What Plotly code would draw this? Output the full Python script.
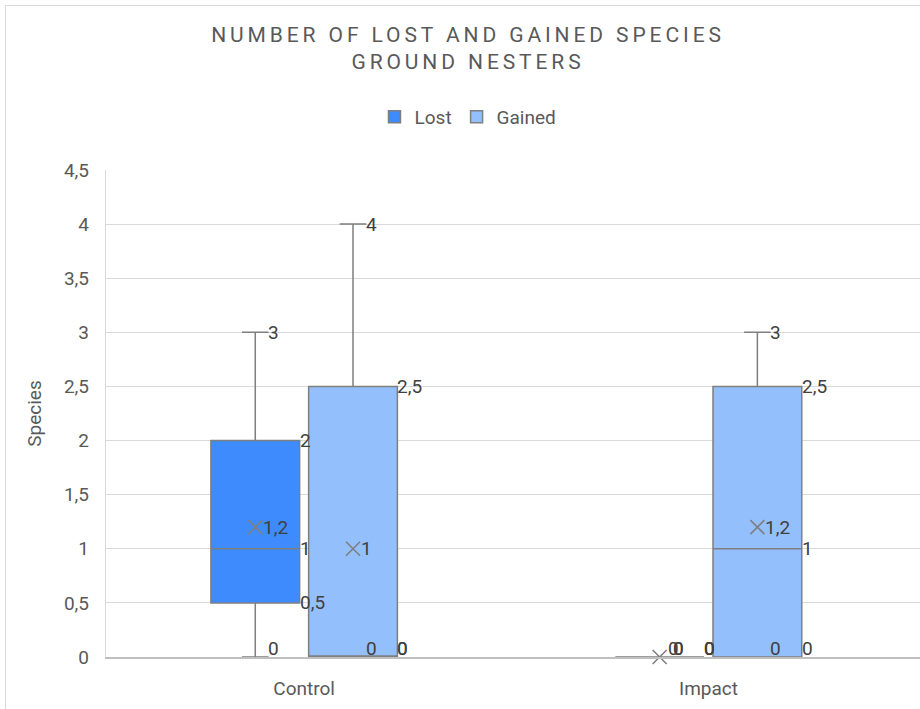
import plotly.graph_objects as go

# ---- data -------------------------------------------------------------
categories = ["Control", "Impact"]
series_names = ["Lost", "Gained"]

lost_min = [0, 0]
lost_q1 = [0.5, 0]
lost_median = [1, 0]
lost_q3 = [2, 0]
lost_max = [3, 0]
lost_mean = [1.2, 0]

gained_min = [0, 0]
gained_q1 = [0, 0]
gained_median = [0, 1]
gained_q3 = [2.5, 2.5]
gained_max = [4, 3]
gained_mean = [1, 1.2]

y_tick_values = [0, 0.5, 1, 1.5, 2, 2.5, 3, 3.5, 4, 4.5]

# ---- styling ------------------------------------------------------------
W, H = 920, 709
M_L, M_R, M_T, M_B = 106, 0, 170, 52
FONT = "Roboto"
FS = 19
GREY_TEXT = "#595959"
LABEL_TEXT = "#404040"
EDGE = "#7f7f7f"
GRID = "#d9d9d9"
COLORS = {"Lost": "#3d8bfd", "Gained": "#94bffd"}
BOX_GAP = 0.5166
BOX_GROUP_GAP = 0.092
X_RANGE = [-0.49, 1.523]

stats = {
    "Lost": dict(mn=lost_min, q1=lost_q1, med=lost_median, q3=lost_q3, mx=lost_max, mean=lost_mean),
    "Gained": dict(mn=gained_min, q1=gained_q1, med=gained_median, q3=gained_q3, mx=gained_max, mean=gained_mean),
}

xpos = list(range(len(categories)))
group_w = 1 - BOX_GAP
offsets = {"Lost": -group_w / 4, "Gained": group_w / 4}
half_w = group_w * (1 - BOX_GROUP_GAP) / 4


def fmt(v):
    if float(v).is_integer():
        return str(int(v))
    return f"{v:g}".replace(".", ",")


fig = go.Figure()

for name in series_names:
    s = stats[name]
    fig.add_trace(go.Box(
        name=name,
        x=xpos,
        q1=s["q1"], median=s["med"], q3=s["q3"],
        lowerfence=s["mn"], upperfence=s["mx"],
        fillcolor=COLORS[name],
        line=dict(color=EDGE, width=1.5),
        whiskerwidth=0.3,
        boxpoints=False,
        hoverinfo="skip",
    ))

# mean markers
for name in series_names:
    s = stats[name]
    fig.add_trace(go.Scatter(
        x=[i + offsets[name] for i in xpos],
        y=s["mean"],
        mode="markers",
        marker=dict(symbol="x-thin", size=14, line=dict(color=EDGE, width=1.6)),
        cliponaxis=False,
        showlegend=False,
        hoverinfo="skip",
    ))

# value labels
annotations = []


def add_label(x, y, xshift):
    zero = (y == 0)
    annotations.append(dict(
        x=x, y=y, xref="x", yref="y", text=fmt(y), showarrow=False,
        xanchor="left", yanchor="bottom" if zero else "middle",
        xshift=xshift, yshift=-5 if zero else 0,
        font=dict(family=FONT, size=FS, color=LABEL_TEXT),
    ))


for name in series_names:
    s = stats[name]
    for i in xpos:
        c = i + offsets[name]
        add_label(c, s["mn"][i], 11)
        add_label(c, s["mx"][i], 11)
        add_label(c, s["mean"][i], 6)
        for key in ("q1", "med", "q3"):
            add_label(c + half_w, s[key][i], -2)

plot_w = W - M_L - M_R
plot_h = H - M_T - M_B

fig.update_layout(
    width=W, height=H,
    margin=dict(l=M_L, r=M_R, t=M_T, b=M_B),
    paper_bgcolor="white", plot_bgcolor="white",
    separators=", ",
    boxmode="group", boxgap=BOX_GAP, boxgroupgap=BOX_GROUP_GAP,
    font=dict(family=FONT, color=GREY_TEXT, size=FS),
    title=dict(
        text="NUMBER OF LOST AND GAINED SPECIES<br>GROUND NESTERS",
        x=468 / W, xref="container", xanchor="center",
        y=1 - 42 / H, yref="container", yanchor="top",
        font=dict(family=FONT, size=21, color=GREY_TEXT),
    ),
    legend=dict(
        orientation="h", x=468 / W, xref="container", xanchor="center",
        y=1 - 117 / H, yref="container", yanchor="middle",
        font=dict(family=FONT, size=FS, color=GREY_TEXT),
        itemclick=False, itemdoubleclick=False,
    ),
    xaxis=dict(
        range=X_RANGE, tickvals=xpos, ticktext=categories,
        showgrid=False, zeroline=False,
        showline=True, linecolor="#bfbfbf", linewidth=2,
        ticks="", ticklabelstandoff=13,
        tickfont=dict(family=FONT, size=FS, color=GREY_TEXT),
    ),
    yaxis=dict(
        range=[0, 4.5], tickvals=y_tick_values,
        showgrid=True, gridcolor=GRID, gridwidth=1.3,
        zeroline=False, showline=True, linecolor=GRID, linewidth=1.3,
        ticks="", ticklabelstandoff=12,
        tickfont=dict(family=FONT, size=FS, color=GREY_TEXT),
        title=dict(text="Species", standoff=17,
                   font=dict(family=FONT, size=FS, color=GREY_TEXT)),
    ),
    annotations=annotations,
    shapes=[dict(
        type="rect", xref="paper", yref="paper", layer="below",
        x0=(5.5 - M_L) / plot_w, x1=1.2,
        y0=-0.3, y1=(plot_h + M_T - 5.5) / plot_h,
        line=dict(color=GRID, width=1), fillcolor="rgba(0,0,0,0)",
    )],
)

spacing_js = (
    "document.querySelectorAll('.gtitle').forEach(function(e){"
    "e.style.letterSpacing='3.9px';});"
)

fig.write_html("out.html", post_script=spacing_js, config={"responsive": False})
